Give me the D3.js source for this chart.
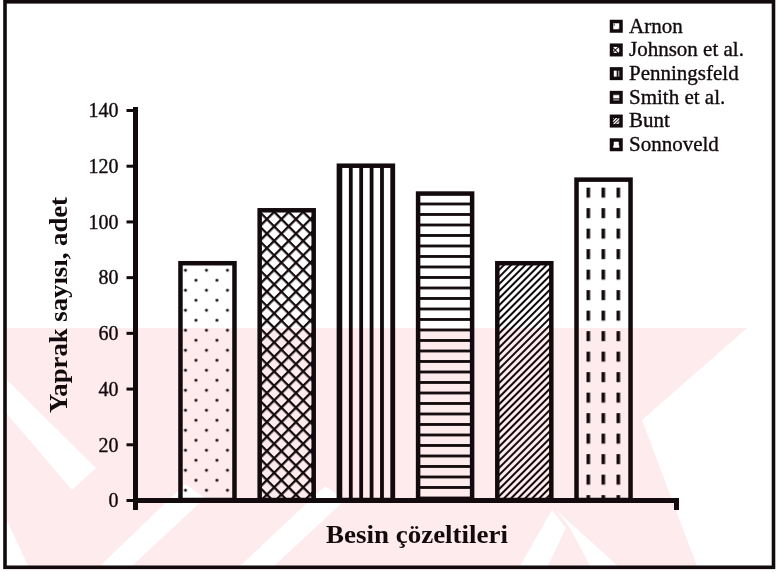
<!DOCTYPE html>
<html>
<head>
<meta charset="utf-8">
<script src="https://cdn.jsdelivr.net/npm/d3@7"></script>
<style>
  html, body { margin: 0; padding: 0; background: #fff; }
  svg { display: block; }
  text { font-family: "Liberation Serif", "Times New Roman", serif; fill: #120a0c; }
</style>
</head>
<body>
<svg id="chart" width="778" height="572"></svg>
<script>
// Nutrient solutions and leaf counts
const categories = ["Arnon", "Johnson et al.", "Penningsfeld", "Smith et al.", "Bunt", "Sonnoveld"];
const leafCounts = [85, 104, 120, 110, 85, 115];
const hatchKinds = ["dots", "cross", "vstripe", "hstripe", "diag", "vdash"];
const yTicks = [0, 20, 40, 60, 80, 100, 120, 140];
const yTitle = "Yaprak sayısı, adet";
const xTitle = "Besin çözeltileri";

const ink = "#120a0c";
const svg = d3.select("#chart");
const defs = svg.append("defs");

// outer frame
svg.append("rect")
  .attr("x", 5).attr("y", 1.8).attr("width", 768.5).attr("height", 565.5)
  .attr("fill", "#fff").attr("stroke", ink).attr("stroke-width", 3.6);

const y = d3.scaleLinear().domain([0, 140]).range([500, 110]);
const x = d3.scaleBand().domain(categories).range([135, 676])
  .paddingInner(0.318).paddingOuter(0.574);

// hatch patterns, anchored to a given origin
function makePattern(id, kind, ox, oy, s) {
  const p = defs.append("pattern").attr("id", id)
    .attr("patternUnits", "userSpaceOnUse");
  let w, h, tf = `translate(${ox},${oy}) scale(${s})`;
  if (kind === "dots") {
    w = 21; h = 20;
    p.append("rect").attr("width", w).attr("height", h).attr("fill", "#fff");
    p.append("circle").attr("cx", 5).attr("cy", 5).attr("r", 1.5).attr("fill", ink);
    p.append("circle").attr("cx", 15.5).attr("cy", 15).attr("r", 1.5).attr("fill", ink);
  } else if (kind === "cross") {
    w = 10.25; h = 10.25; tf += " rotate(45)";
    p.append("rect").attr("width", w).attr("height", h).attr("fill", "#fff");
    p.append("rect").attr("width", 2.3).attr("height", h).attr("fill", ink);
    p.append("rect").attr("width", w).attr("height", 2.3).attr("fill", ink);
  } else if (kind === "vstripe") {
    w = 10.4; h = 10;
    p.append("rect").attr("width", w).attr("height", h).attr("fill", "#fff");
    p.append("rect").attr("width", 3.8).attr("height", h).attr("fill", ink);
  } else if (kind === "hstripe") {
    w = 10; h = 10.5;
    p.append("rect").attr("width", w).attr("height", h).attr("fill", "#fff");
    p.append("rect").attr("width", w).attr("height", 2.8).attr("fill", ink);
  } else if (kind === "diag") {
    w = 5; h = 5; tf += " rotate(45)";
    p.append("rect").attr("width", w).attr("height", h).attr("fill", "#fff");
    p.append("rect").attr("width", 2).attr("height", h).attr("fill", ink);
  } else {
    w = 15; h = 20.5;
    p.append("rect").attr("width", w).attr("height", h).attr("fill", "#fff");
    p.append("rect").attr("width", 3.6).attr("height", 10).attr("fill", ink);
  }
  p.attr("width", w).attr("height", h).attr("patternTransform", tf);
  return `url(#${id})`;
}

// per-bar pattern offsets relative to the bar's rect
const offsets = {
  dots: [0, 2], cross: [0, 0], vstripe: [10, 0],
  hstripe: [0, 9], diag: [0, 0], vdash: [10, 8]
};

const bw = x.bandwidth();
const bars = svg.append("g");
categories.forEach((c, i) => {
  const bx = x(c), by = y(leafCounts[i]);
  const k = hatchKinds[i];
  const fill = makePattern("hatch" + i, k, bx + offsets[k][0], by + offsets[k][1], 1);
  bars.append("rect")
    .attr("x", bx).attr("y", by)
    .attr("width", bw).attr("height", y(0) - by)
    .attr("fill", fill).attr("stroke", ink).attr("stroke-width", 4.5);
});

// y axis
const yAxis = svg.append("g").attr("transform", "translate(135.5,0)")
  .call(d3.axisLeft(y).tickValues(yTicks).tickSize(9).tickSizeOuter(0).tickPadding(8));
yAxis.select(".domain").attr("stroke", ink).attr("stroke-width", 5)
  .attr("d", `M0,${y(140) - 3}V${y(0)}`);
yAxis.selectAll(".tick line").attr("stroke", ink).attr("stroke-width", 3);
yAxis.selectAll(".tick text")
  .style("font-family", '"Liberation Serif", serif')
  .style("font-size", "20px").attr("fill", ink).attr("dy", "0.34em")
  .attr("stroke", ink).attr("stroke-width", 0.35);

// x axis: baseline with end ticks hanging below
const xAxis = svg.append("g").attr("transform", `translate(0,${y(0)})`)
  .call(d3.axisBottom(x).tickValues([]).tickSizeOuter(10));
xAxis.select(".domain").attr("stroke", ink).attr("stroke-width", 5)
  .attr("stroke-linejoin", "miter");

// axis titles
svg.append("text")
  .attr("transform", "translate(67,305) rotate(-90)")
  .attr("text-anchor", "middle")
  .attr("textLength", 216).attr("lengthAdjust", "spacingAndGlyphs")
  .style("font-size", "26px").style("font-weight", "bold")
  .text(yTitle);
svg.append("text")
  .attr("x", 417).attr("y", 543)
  .attr("text-anchor", "middle")
  .attr("textLength", 182).attr("lengthAdjust", "spacingAndGlyphs")
  .style("font-size", "26px").style("font-weight", "bold")
  .text(xTitle);

// legend
const legend = svg.append("g");
categories.forEach((c, i) => {
  const cy = 26.5 + i * 23.7;
  const k = hatchKinds[i];
  const fill = makePattern("key" + i, k, 612, cy - 4, 0.45);
  legend.append("rect")
    .attr("x", 611.5).attr("y", cy - 5).attr("width", 9.5).attr("height", 9.5)
    .attr("fill", fill).attr("stroke", ink).attr("stroke-width", 3.5);
  legend.append("text")
    .attr("x", 629).attr("y", cy + 6)
    .style("font-size", "21px")
    .attr("stroke", ink).attr("stroke-width", 0.35)
    .text(c);
});

// light pink backdrop mark, multiplied over the drawing
const mark = svg.append("g").style("mix-blend-mode", "multiply");
const pink = "#fdebee";
mark.append("polygon")
  .attr("points", "7,328 747,328 642,420 697,566 7,566")
  .attr("fill", pink);
const cuts = [
  "7,380 7,414 72,490 96,468",
  "7,520 7,566 28,566",
  "100,566 132,566 205,498 185,484",
  "240,566 274,566 345,500 325,486",
  "520,566 548,566 566,528 552,510",
  "556,510 570,528 590,566 618,566"
];
cuts.forEach(pts => mark.append("polygon").attr("points", pts).attr("fill", "#fff"));
</script>
</body>
</html>
